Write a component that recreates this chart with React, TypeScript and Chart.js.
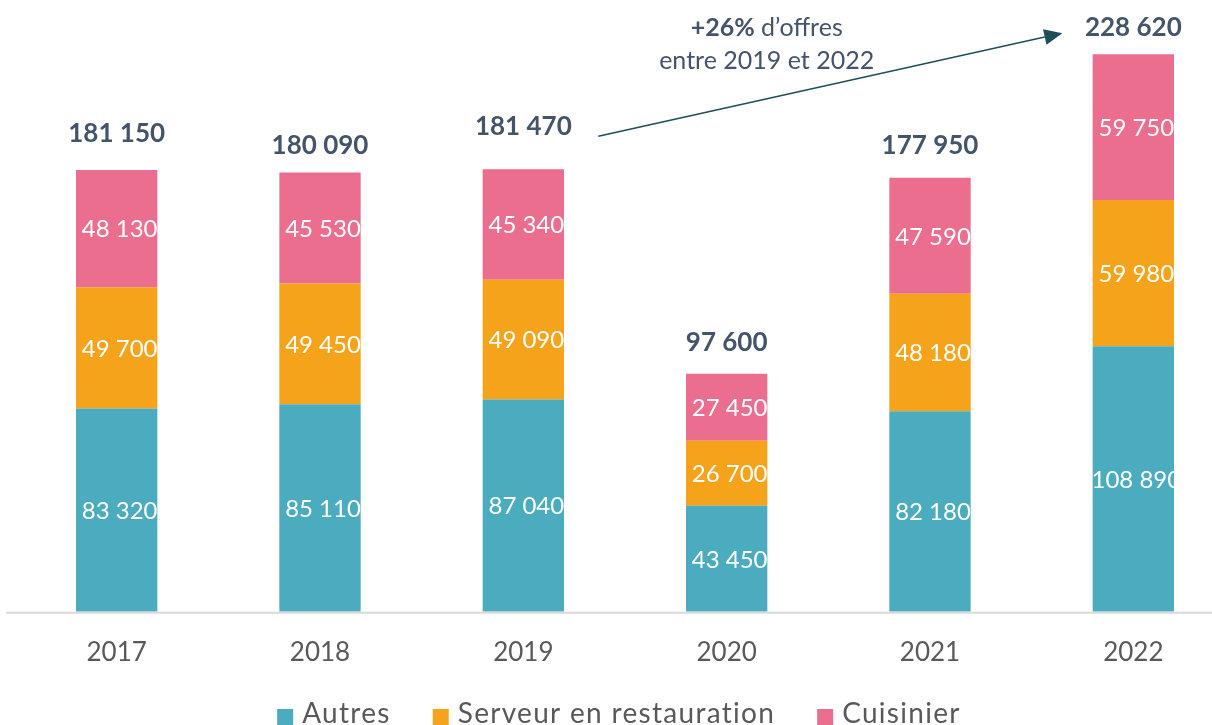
import React, { useEffect, useRef } from "react";
import { Chart, registerables } from "chart.js";

Chart.register(...registerables);

const years = ["2017", "2018", "2019", "2020", "2021", "2022"];
const autres = [83320, 85110, 87040, 43450, 82180, 108890];
const serveur = [49700, 49450, 49090, 26700, 48180, 59980];
const cuisinier = [48130, 45530, 45340, 27450, 47590, 59750];
const totals = [181150, 180090, 181470, 97600, 177950, 228620];
const seriesNames = ["Autres", "Serveur en restauration", "Cuisinier"];
const seriesColors = ["#4BACC0", "#F5A31A", "#EC6E8F"];
const annotationBold = "+26%";
const annotationRest = " d\u2019offres";
const annotationLine2 = "entre 2019 et 2022";

const totalLift = [36, 27, 43, 31, 32, 27];
const FONT = "Lato, 'Open Sans', sans-serif";
const DARK = "#44546A";
const GREY = "#595959";

const fmt = (v: number) => String(v).replace(/\B(?=(\d{3})+(?!\d))/g, " ");

const labelsPlugin = {
  id: "labelsPlugin",
  afterDatasetsDraw(chart: any) {
    const { ctx, scales } = chart;
    const xs = scales.x;
    const ys = scales.y;
    ctx.save();
    // axis line
    ctx.strokeStyle = "#D9D9D9";
    ctx.lineWidth = 2;
    ctx.beginPath();
    ctx.moveTo(6, ys.getPixelForValue(0) + 1);
    ctx.lineTo(chart.width, ys.getPixelForValue(0) + 1);
    ctx.stroke();

    // inner labels
    ctx.textAlign = "center";
    ctx.textBaseline = "middle";
    ctx.fillStyle = "#FFFFFF";
    ctx.font = `24px ${FONT}`;
    chart.data.datasets.forEach((ds: any, di: number) => {
      const meta = chart.getDatasetMeta(di);
      meta.data.forEach((bar: any, i: number) => {
        const yc = (bar.y + bar.base) / 2;
        ctx.fillText(fmt(ds.data[i]), bar.x + 3, yc + 1);
      });
    });

    // totals
    ctx.fillStyle = DARK;
    ctx.font = `bold 26px ${FONT}`;
    totals.forEach((t, i) => {
      const x = xs.getPixelForValue(i);
      const y = ys.getPixelForValue(t) - totalLift[i];
      ctx.fillText(fmt(t), x, y);
    });

    // annotation text
    const ax = xs.getPixelForValue(3) + 40;
    ctx.font = `bold 25px ${FONT}`;
    const wb = ctx.measureText(annotationBold).width;
    ctx.font = `25px ${FONT}`;
    const wr = ctx.measureText(annotationRest).width;
    const startX = ax - (wb + wr) / 2;
    ctx.textAlign = "left";
    ctx.font = `bold 25px ${FONT}`;
    ctx.fillText(annotationBold, startX, 28);
    ctx.font = `25px ${FONT}`;
    ctx.fillText(annotationRest, startX + wb, 28);
    ctx.textAlign = "center";
    ctx.fillText(annotationLine2, ax, 61);

    // arrow
    const x1 = xs.getPixelForValue(2) + 75;
    const y1 = ys.getPixelForValue(totals[2]) - 33;
    const x2 = xs.getPixelForValue(5) - 71;
    const y2 = ys.getPixelForValue(totals[5]) - 21;
    const ang = Math.atan2(y2 - y1, x2 - x1);
    const hl = 18;
    const hw = 8;
    const bx = x2 - hl * Math.cos(ang);
    const by = y2 - hl * Math.sin(ang);
    ctx.strokeStyle = "#1D4F5A";
    ctx.fillStyle = "#1D4F5A";
    ctx.lineWidth = 1.5;
    ctx.beginPath();
    ctx.moveTo(x1, y1);
    ctx.lineTo(bx, by);
    ctx.stroke();
    ctx.beginPath();
    ctx.moveTo(x2, y2);
    ctx.lineTo(bx + hw * Math.sin(ang), by - hw * Math.cos(ang));
    ctx.lineTo(bx - hw * Math.sin(ang), by + hw * Math.cos(ang));
    ctx.closePath();
    ctx.fill();

    // legend
    ctx.font = `28px ${FONT}`;
    (ctx as any).letterSpacing = "1.3px";
    const box = 16;
    const gapText = 9;
    const gapItem = 42;
    const widths = seriesNames.map((n) => ctx.measureText(n).width);
    const total =
      widths.reduce((a, b) => a + b, 0) + seriesNames.length * (box + gapText) + (seriesNames.length - 1) * gapItem;
    let lx = (xs.left + xs.right) / 2 - 6 - total / 2;
    const baseY = chart.height - 2;
    ctx.textAlign = "left";
    ctx.textBaseline = "alphabetic";
    seriesNames.forEach((n, i) => {
      ctx.fillStyle = seriesColors[i];
      ctx.fillRect(lx, baseY - 14, box, box);
      lx += box + gapText;
      ctx.fillStyle = GREY;
      ctx.fillText(n, lx, baseY);
      lx += widths[i] + gapItem;
    });
    ctx.restore();
  },
};

export default function App() {
  const ref = useRef<HTMLCanvasElement | null>(null);
  useEffect(() => {
    if (!ref.current) return;
    const chart = new Chart(ref.current, {
      type: "bar",
      data: {
        labels: years,
        datasets: seriesNames.map((name, i) => ({
          label: name,
          data: [autres, serveur, cuisinier][i],
          backgroundColor: seriesColors[i],
        })),
      },
      options: {
        animation: false,
        responsive: true,
        maintainAspectRatio: false,
        layout: { padding: { top: 2, left: 15, right: 5, bottom: 32 } },
        datasets: { bar: { categoryPercentage: 1, barPercentage: 0.4 } },
        scales: {
          x: {
            stacked: true,
            grid: { display: false, drawTicks: false },
            border: { display: false },
            ticks: { color: GREY, font: { family: FONT, size: 26 }, padding: 25 },
          },
          y: { stacked: true, display: false, min: 0, max: 250000 },
        },
        plugins: {
          legend: { display: false },
          tooltip: { enabled: false },
        },
      },
      plugins: [labelsPlugin],
    });
    return () => chart.destroy();
  }, []);
  return (
    <div style={{ position: "fixed", left: 0, top: 0, width: 1240, height: 725, background: "#fff" }}>
      <canvas ref={ref} />
    </div>
  );
}
